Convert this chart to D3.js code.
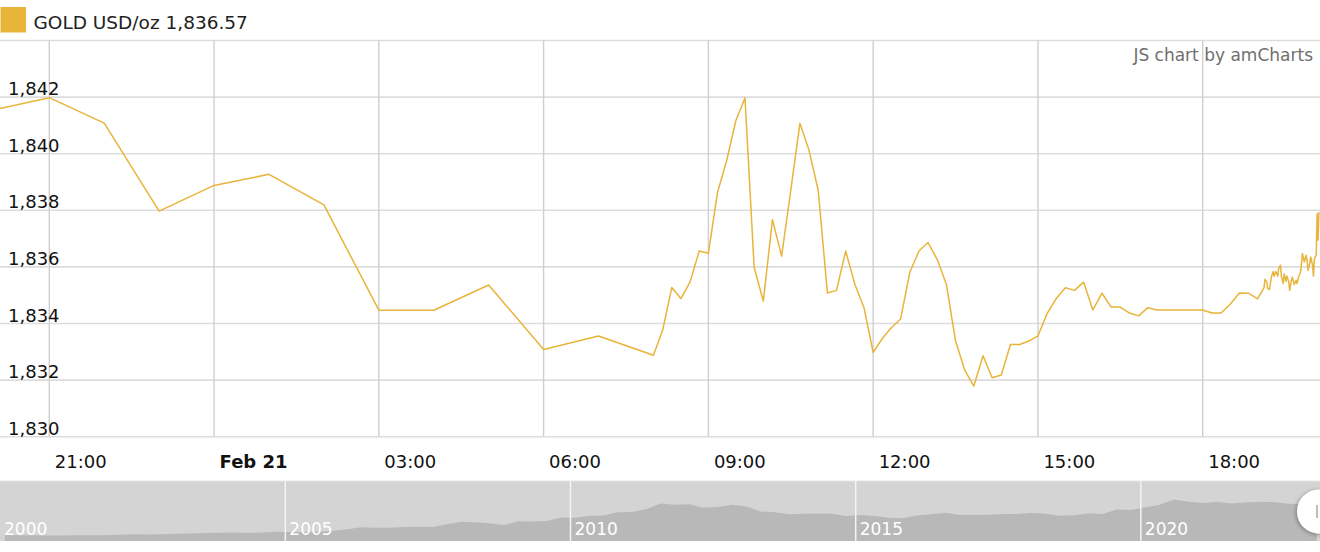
<!DOCTYPE html>
<html><head><meta charset="utf-8">
<script src="https://cdn.jsdelivr.net/npm/d3@7"></script>
<style>
body{margin:0;background:#fff;overflow:hidden}
svg{display:block;font-family:"DejaVu Sans",Verdana,sans-serif}
</style>
</head><body>
<svg id="chart" width="1320" height="552"></svg>
<script>
// ---------- data ----------
const seriesName = "GOLD USD/oz";
const lastPriceLabel = "1,836.57";
const creditText = "JS chart by amCharts";

const times = [
"2023-02-20 20:00","2023-02-20 21:00","2023-02-20 22:00","2023-02-20 23:00",
"2023-02-21 00:00","2023-02-21 01:00","2023-02-21 02:00","2023-02-21 03:00","2023-02-21 04:00",
"2023-02-21 05:00","2023-02-21 06:00","2023-02-21 07:00","2023-02-21 08:00",
"2023-02-21 08:10","2023-02-21 08:20","2023-02-21 08:30","2023-02-21 08:40","2023-02-21 08:50",
"2023-02-21 09:00","2023-02-21 09:10","2023-02-21 09:20","2023-02-21 09:30","2023-02-21 09:40","2023-02-21 09:50",
"2023-02-21 10:00","2023-02-21 10:10","2023-02-21 10:20","2023-02-21 10:30","2023-02-21 10:40","2023-02-21 10:50",
"2023-02-21 11:00","2023-02-21 11:10","2023-02-21 11:20","2023-02-21 11:30","2023-02-21 11:40","2023-02-21 11:50",
"2023-02-21 12:00","2023-02-21 12:10","2023-02-21 12:20","2023-02-21 12:30","2023-02-21 12:40","2023-02-21 12:50",
"2023-02-21 13:00","2023-02-21 13:10","2023-02-21 13:20","2023-02-21 13:30","2023-02-21 13:40","2023-02-21 13:50",
"2023-02-21 14:00","2023-02-21 14:10","2023-02-21 14:20","2023-02-21 14:30","2023-02-21 14:40","2023-02-21 14:50",
"2023-02-21 15:00","2023-02-21 15:10","2023-02-21 15:20","2023-02-21 15:30","2023-02-21 15:40","2023-02-21 15:50",
"2023-02-21 16:00","2023-02-21 16:10","2023-02-21 16:20","2023-02-21 16:30","2023-02-21 16:40","2023-02-21 16:50",
"2023-02-21 17:00","2023-02-21 17:10","2023-02-21 17:20","2023-02-21 17:30","2023-02-21 17:40","2023-02-21 17:50",
"2023-02-21 18:00","2023-02-21 18:10","2023-02-21 18:20","2023-02-21 18:30","2023-02-21 18:40","2023-02-21 18:50",
"2023-02-21 19:00","2023-02-21 19:07","2023-02-21 19:08","2023-02-21 19:10","2023-02-21 19:11","2023-02-21 19:13",
"2023-02-21 19:15","2023-02-21 19:17","2023-02-21 19:18","2023-02-21 19:20","2023-02-21 19:22","2023-02-21 19:23",
"2023-02-21 19:25","2023-02-21 19:26","2023-02-21 19:28","2023-02-21 19:29","2023-02-21 19:31","2023-02-21 19:32",
"2023-02-21 19:34","2023-02-21 19:35","2023-02-21 19:37","2023-02-21 19:38","2023-02-21 19:40","2023-02-21 19:42",
"2023-02-21 19:43","2023-02-21 19:45","2023-02-21 19:47","2023-02-21 19:49","2023-02-21 19:51","2023-02-21 19:53",
"2023-02-21 19:54","2023-02-21 19:55","2023-02-21 19:57","2023-02-21 19:58","2023-02-21 20:00","2023-02-21 20:01",
"2023-02-21 20:02","2023-02-21 20:04","2023-02-21 20:05","2023-02-21 20:06","2023-02-21 20:07"
];
const prices = [
1841.55,1841.98,1841.08,1837.97,
1838.88,1839.27,1838.19,1834.47,1834.47,
1835.36,1833.08,1833.56,1832.88,
1833.76,1835.27,1834.88,1835.47,1836.56,
1836.48,1838.64,1839.76,1841.17,1841.97,1835.98,
1834.79,1837.67,1836.38,1838.70,1841.08,1840.11,
1838.70,1835.08,1835.17,1836.56,1835.39,1834.56,
1832.98,1833.47,1833.86,1834.16,1835.80,1836.56,
1836.86,1836.26,1835.39,1833.39,1832.35,1831.79,
1832.86,1832.08,1832.18,1833.26,1833.26,1833.38,
1833.56,1834.35,1834.88,1835.26,1835.17,1835.46,
1834.48,1835.07,1834.58,1834.58,1834.37,1834.27,
1834.56,1834.48,1834.48,1834.48,1834.48,1834.48,
1834.48,1834.37,1834.37,1834.68,1835.08,1835.07,
1834.87,1835.27,1835.56,1835.47,1835.23,1835.20,
1835.64,1835.84,1835.67,1835.84,1835.67,1835.94,
1836.06,1835.67,1835.41,1835.76,1835.49,1835.68,
1835.47,1835.17,1835.53,1835.64,1835.38,1835.53,
1835.41,1835.67,1835.82,1836.47,1836.17,1836.41,
1836.23,1835.88,1836.12,1836.35,1836.06,1835.67,
1836.29,1836.41,1837.88,1836.94,1837.94
];

const yGridValues = [1830,1832,1834,1836,1838,1840,1842,1844];
const yTickLabels = ["1,830","1,832","1,834","1,836","1,838","1,840","1,842"];
const xTickTimes = ["2023-02-20 21:00","2023-02-21 00:00","2023-02-21 03:00","2023-02-21 06:00",
                    "2023-02-21 09:00","2023-02-21 12:00","2023-02-21 15:00","2023-02-21 18:00"];
const xTickLabels = ["21:00","Feb 21","03:00","06:00","09:00","12:00","15:00","18:00"];

// long-term history for the scrollbar (USD/oz)
const historyDates = [
"2000-02","2000-05","2000-08","2000-11","2001-02","2001-05","2001-08","2001-11",
"2002-02","2002-05","2002-08","2002-11","2003-02","2003-05","2003-08","2003-11",
"2004-02","2004-05","2004-08","2004-11","2005-02","2005-05","2005-08","2005-11",
"2006-02","2006-05","2006-08","2006-11","2007-02","2007-05","2007-08","2007-11",
"2008-02","2008-05","2008-08","2008-11","2009-02","2009-05","2009-08","2009-11",
"2010-02","2010-05","2010-08","2010-11","2011-02","2011-05","2011-08","2011-11",
"2012-02","2012-05","2012-08","2012-11","2013-02","2013-05","2013-08","2013-11",
"2014-02","2014-05","2014-08","2014-11","2015-02","2015-05","2015-08","2015-11",
"2016-02","2016-05","2016-08","2016-11","2017-02","2017-05","2017-08","2017-11",
"2018-02","2018-05","2018-08","2018-11","2019-02","2019-05","2019-08","2019-11",
"2020-02","2020-05","2020-08","2020-11","2021-02","2021-05","2021-08","2021-11",
"2022-02","2022-05","2022-08","2022-11","2023-01","2023-02"
];
const historyPrices = [
295,275,275,265,265,270,275,275,
295,315,310,320,350,355,375,395,
405,385,400,440,425,425,440,485,
555,650,625,630,665,675,670,800,
920,890,840,760,940,930,950,1120,
1100,1200,1210,1370,1380,1510,1780,1720,
1740,1580,1620,1720,1640,1400,1360,1270,
1300,1290,1300,1190,1230,1190,1110,1080,
1220,1270,1340,1230,1230,1250,1280,1280,
1330,1300,1200,1220,1320,1280,1500,1470,
1600,1720,1970,1870,1810,1860,1780,1830,
1870,1850,1770,1750,1920,1836
];
const scrollYears = ["2000","2005","2010","2015","2020"];

// ---------- drawing ----------
const W = 1320;
const svg = d3.select("#chart");
const parseT = d3.utcParse("%Y-%m-%d %H:%M");
const parseM = d3.utcParse("%Y-%m");
const data = times.map((t, i) => ({t: parseT(t), v: prices[i]}));

const goldColor = "#e8b43a";
const plotTop = 40.5, plotBottom = 436.7;

const x = d3.scaleUtc()
  .domain([parseT("2023-02-20 21:00"), parseT("2023-02-21 18:00")])
  .range([49.3, 1202.7]);
const y = d3.scaleLinear().domain([1830, 1844]).range([plotBottom, plotTop]);

// clip
svg.append("defs").append("clipPath").attr("id", "plotClip")
  .append("rect").attr("x", 0).attr("y", plotTop - 2).attr("width", W).attr("height", plotBottom - plotTop + 4);

// horizontal grid
svg.append("g").selectAll("line").data(yGridValues).join("line")
  .attr("x1", 0).attr("x2", W)
  .attr("y1", d => y(d)).attr("y2", d => y(d))
  .attr("stroke", "#dddddd").attr("stroke-width", 1.6);

// vertical grid
const xTicks = xTickTimes.map(parseT);
svg.append("g").selectAll("line").data(xTicks).join("line")
  .attr("x1", d => x(d)).attr("x2", d => x(d))
  .attr("y1", plotTop).attr("y2", plotBottom)
  .attr("stroke", "#cfcfcf").attr("stroke-width", 1.4);

// y labels
svg.append("g").selectAll("text").data(yTickLabels).join("text")
  .attr("x", 8).attr("y", (d, i) => y(yGridValues[i]) - 2)
  .attr("font-size", 18).attr("fill", "#111")
  .text(d => d);

// x labels
svg.append("g").selectAll("text").data(xTickLabels).join("text")
  .attr("x", (d, i) => x(xTicks[i]) + 5.5).attr("y", 467.5)
  .attr("font-size", 18).attr("fill", "#111")
  .attr("font-weight", d => d.startsWith("Feb") ? "bold" : "normal")
  .text(d => d);

// line
const line = d3.line().x(d => x(d.t)).y(d => y(d.v));
svg.append("path").datum(data)
  .attr("clip-path", "url(#plotClip)")
  .attr("d", line).attr("fill", "none")
  .attr("stroke", goldColor).attr("stroke-width", 1.5)
  .attr("stroke-linejoin", "round");

// legend
svg.append("rect").attr("x", 0.5).attr("y", 7).attr("width", 25.5).attr("height", 25.5)
  .attr("fill", goldColor);
svg.append("text").attr("x", 33.5).attr("y", 29).attr("font-size", 18.5).attr("fill", "#222")
  .text(seriesName + " " + lastPriceLabel);

// credit
svg.append("text").attr("x", 1313).attr("y", 61).attr("text-anchor", "end")
  .attr("font-size", 17).attr("fill", "#6f6f6f").text(creditText);

// ---------- scrollbar ----------
const sTop = 481, sBottom = 541;
const sx = d3.scaleUtc().domain([parseM("2000-01"), parseT("2023-02-21 00:00")]).range([0, W]);
const sy = d3.scaleLinear().domain([0, 2850]).range([sBottom, sTop]);
const sg = svg.append("g");
sg.append("rect").attr("x", 0).attr("y", sTop).attr("width", W).attr("height", sBottom - sTop)
  .attr("fill", "#d4d4d4");
const hist = historyDates.map((d, i) => ({t: parseM(d), v: historyPrices[i]}));
sg.append("path").datum(hist)
  .attr("d", d3.area().x(d => sx(d.t)).y0(sBottom).y1(d => sy(d.v)))
  .attr("fill", "#b8b8b8");
sg.append("line").attr("x1", 0).attr("x2", W).attr("y1", sTop).attr("y2", sTop)
  .attr("stroke", "#e4e4e4").attr("stroke-width", 1);
const yearDates = scrollYears.map(s => parseM(s + "-01"));
sg.selectAll("line.div").data(yearDates.slice(1)).join("line").attr("class", "div")
  .attr("x1", d => sx(d)).attr("x2", d => sx(d))
  .attr("y1", sTop).attr("y2", sBottom)
  .attr("stroke", "#f4f4f4").attr("stroke-width", 1.5);
sg.selectAll("text").data(scrollYears).join("text")
  .attr("x", (d, i) => sx(yearDates[i]) + 4).attr("y", 535)
  .attr("font-size", 17).attr("fill", "#ffffff").text(d => d);

// grip
const defs = svg.select("defs");
const f = defs.append("filter").attr("id", "sh").attr("x", "-50%").attr("y", "-50%").attr("width", "200%").attr("height", "200%");
f.append("feDropShadow").attr("dx", -1).attr("dy", 1).attr("stdDeviation", 2).attr("flood-color", "#000").attr("flood-opacity", 0.35);
sg.append("circle").attr("cx", 1319).attr("cy", 511.5).attr("r", 22)
  .attr("fill", "#fff").attr("filter", "url(#sh)");
sg.append("line").attr("x1", 1317).attr("x2", 1317).attr("y1", 505).attr("y2", 518)
  .attr("stroke", "#9a9a9a").attr("stroke-width", 1.3);
</script>
</body></html>
